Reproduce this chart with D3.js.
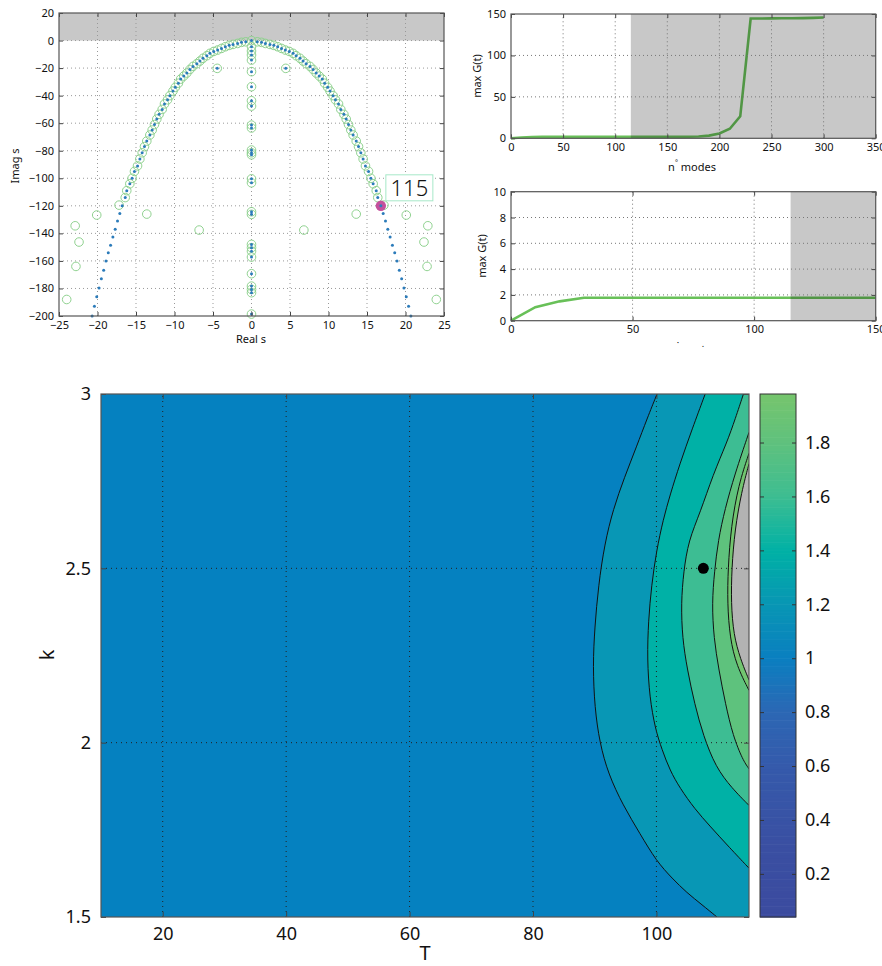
<!DOCTYPE html>
<html>
<head>
<meta charset="utf-8">
<script src="https://cdn.jsdelivr.net/npm/d3@7"></script>
<style>
body { margin: 0; background: #fff; }
svg text { font-family: "Noto Sans", "Open Sans", sans-serif; fill: #111; }
</style>
</head>
<body>
<svg id="fig" width="882" height="966"></svg>
<script>
// ---- spectrum (left branch, mirrored to the right) ----
var branchRe = [-0.75,-1.3,-1.8,-2.4,-2.9,-3.4,-3.9,-4.4,-4.9,-5.4,-5.8,-6.3,-6.7,-7.1,-7.6,-8.0,-8.4,-8.8,-9.2,-9.5,-9.9,-10.2,-10.6,-10.9,-11.3,-11.6,-12.0,-12.3,-12.6,-12.9,-13.2,-13.6,-13.9,-14.2,-14.5,-14.8,-15.2,-15.5,-15.8,-16.2,-16.4];
var branchIm = [-0.9,-1.3,-2.1,-2.8,-3.5,-4.5,-5.7,-6.9,-7.9,-9.3,-11,-12.9,-14.9,-16.8,-18.8,-21,-23.6,-25.8,-28,-31,-34,-36.7,-40,-43,-46,-50,-53.6,-57,-61,-65,-68.6,-73,-77,-81.5,-86,-91,-95,-100,-104,-109,-114];
var tailRe = [-16.8,-17.1,-17.4,-17.7,-18.0,-18.3,-18.6,-18.9,-19.2,-19.5,-19.8,-20.1,-20.4,-20.7];
var tailIm = [-120,-125.5,-131,-137,-142.7,-148.7,-154,-160,-166.7,-173,-179.7,-186,-193,-200];
var axisIm = [0,-4.5,-7.6,-10.5,-14.2,-22.6,-33.5,-43.7,-47.6,-61.4,-63.5,-79.5,-81.5,-83,-100.4,-103.3,-124.3,-126.2,-148,-150.4,-152.9,-157.2,-169.3,-178.3,-180.7,-183.1,-198.6];
var sideRe = [-4.45];
var sideIm = [-20.2];
var ghostRe = [-17.2,-20.1,-22.9,-22.4,-22.8,-24.0,-13.6,-6.8];
var ghostIm = [-119.5,-126.7,-134.5,-146.3,-164,-188,-126,-137.6];
var selRe = 16.8, selIm = -120, selLabel = "115";

// ---- max G(t) vs number of modes ----
var nModes = [0,10,20,30,40,50,60,70,80,90,100,110,120,130,140,150,160,170,180,190,200,210,220,230,240,250,260,270,280,290,300];
var maxG = [0,1.05,1.5,1.78,1.78,1.78,1.78,1.78,1.78,1.78,1.78,1.78,1.78,1.78,1.78,1.78,1.78,1.85,2.2,3.2,5.8,11.5,26.5,144.5,144.6,144.7,144.8,144.9,145.0,145.3,145.8];
var nCut = 115;

// ---- contour map of max G over (T, k) ----
var contour1 = [[100.1,3],[98.5,2.93],[96.8,2.85],[94.8,2.76],[93.0,2.67],[91.6,2.57],[90.6,2.45],[90.0,2.33],[89.7,2.22],[90.0,2.10],[90.8,2.00],[92.2,1.91],[94.6,1.82],[97.3,1.74],[100.0,1.66],[102.6,1.61],[104.9,1.57],[107.4,1.535],[109.8,1.50]];
var contour2 = [[107.9,3],[105.8,2.90],[103.8,2.80],[102.2,2.71],[101.1,2.64],[100.0,2.55],[99.2,2.45],[98.7,2.35],[98.5,2.24],[98.9,2.13],[99.8,2.04],[100.9,1.98],[102.2,1.92],[103.8,1.87],[106.2,1.81],[108.7,1.76],[111.8,1.70],[115,1.64]];
var contour3 = [[114.1,3],[112.8,2.93],[111.4,2.86],[109.2,2.77],[107.1,2.66],[105.2,2.58],[104.4,2.49],[104.0,2.40],[104.2,2.30],[105.0,2.21],[106.2,2.11],[107.6,2.02],[109.6,1.93],[112.2,1.87],[115,1.82]];
var contour4 = [[115,2.89],[112.7,2.77],[111.1,2.67],[110.0,2.58],[109.4,2.49],[109.0,2.40],[109.3,2.30],[110.1,2.21],[111.2,2.11],[112.4,2.02],[114.0,1.95],[115,1.925]];
var contour5 = [[115,2.83],[113.3,2.74],[112.1,2.62],[111.6,2.50],[111.5,2.40],[111.9,2.30],[113.0,2.22],[115,2.15]];
var unstable = [[115,2.80],[113.8,2.72],[112.7,2.61],[112.2,2.50],[112.1,2.40],[112.5,2.31],[113.6,2.24],[115,2.18]];
var bandColors = ["#0581c0","#0897b5","#00b1a6","#3dbd93","#5ec27d","#72c570"];
var unstableColor = "#b3b3b3";
var marker = [107.6, 2.5];

// colourbar
var cbStops = [0.04,0.3,0.6,0.8,1.0,1.2,1.4,1.6,1.8,1.98];
var cbColors = ["#3b4b9f","#3a4fa2","#355aab","#2c67b4","#0a7fc0","#0896b4","#00b1a5","#3dbd92","#5fc17d","#76c56d"];
var cbTicks = [0.2,0.4,0.6,0.8,1,1.2,1.4,1.6,1.8];

var svg = d3.select("#fig");
var fmt = d3.format("~g");

function grid(g, x, y, xt, yt, color, dash){
    var xd = x.domain(), yd = y.domain();
    g.append("g").selectAll("line")
        .data(xt.filter(function(v){return v > xd[0] && v < xd[1];}))
        .enter().append("line")
        .attr("x1", function(d){return x(d);}).attr("x2", function(d){return x(d);})
        .attr("y1", y.range()[0]).attr("y2", y.range()[1])
        .style("stroke", color).style("stroke-dasharray", dash);
    g.append("g").selectAll("line")
        .data(yt.filter(function(v){return v > yd[0] && v < yd[1];}))
        .enter().append("line")
        .attr("y1", function(d){return y(d);}).attr("y2", function(d){return y(d);})
        .attr("x1", x.range()[0]).attr("x2", x.range()[1])
        .style("stroke", color).style("stroke-dasharray", dash);
}

function frame(g, x, y, xt, yt, fs, len, pad){
    var xr = x.range(), yr = y.range();
    var gb = g.append("g").attr("transform", "translate(0," + yr[0] + ")")
        .call(d3.axisBottom(x).tickValues(xt).tickSize(-len).tickPadding(pad).tickFormat(fmt));
    var gl = g.append("g").attr("transform", "translate(" + xr[0] + ",0)")
        .call(d3.axisLeft(y).tickValues(yt).tickSize(-len).tickPadding(pad).tickFormat(fmt));
    g.append("g").attr("transform", "translate(0," + yr[1] + ")")
        .call(d3.axisTop(x).tickValues(xt).tickSize(-len).tickFormat(""));
    g.append("g").attr("transform", "translate(" + xr[1] + ",0)")
        .call(d3.axisRight(y).tickValues(yt).tickSize(-len).tickFormat(""));
    g.selectAll(".domain").remove();
    g.selectAll(".tick line").style("stroke", "#444");
    gb.attr("font-size", fs); gl.attr("font-size", fs);
    g.append("rect").attr("x", xr[0]).attr("y", yr[1])
        .attr("width", xr[1] - xr[0]).attr("height", yr[0] - yr[1])
        .style("fill", "none").style("stroke", "#555").style("stroke-width", 1.2);
}

// ================= spectrum =================
var sx = d3.scaleLinear().domain([-25, 25]).range([59, 444]);
var sy = d3.scaleLinear().domain([-200, 20]).range([316, 13]);
var gs = svg.append("g");
gs.append("rect").attr("x", sx(-25)).attr("y", sy(20))
    .attr("width", sx(25) - sx(-25)).attr("height", sy(0) - sy(20)).style("fill", "#c8c8c8");
grid(gs, sx, sy, d3.range(-25, 26, 5), d3.range(-200, 21, 20), "#999", "1,3");

var circ = [], dots = [];
branchRe.forEach(function(r, i){
    circ.push([r, branchIm[i]], [-r, branchIm[i]]);
    dots.push([r, branchIm[i]], [-r, branchIm[i]]);
});
tailRe.forEach(function(r, i){ dots.push([r, tailIm[i]], [-r, tailIm[i]]); });
axisIm.forEach(function(v){ circ.push([0, v]); dots.push([0, v]); });
sideRe.forEach(function(r, i){
    circ.push([r, sideIm[i]], [-r, sideIm[i]]);
    dots.push([r, sideIm[i]], [-r, sideIm[i]]);
});
ghostRe.forEach(function(r, i){ circ.push([r, ghostIm[i]], [-r, ghostIm[i]]); });

gs.append("g").selectAll("circle").data(circ).enter().append("circle")
    .attr("cx", function(d){return sx(d[0]);}).attr("cy", function(d){return sy(d[1]);})
    .attr("r", 4.3).style("fill", "none").style("stroke", "#90d290").style("stroke-width", 1);
gs.append("circle").attr("cx", sx(selRe)).attr("cy", sy(selIm)).attr("r", 5.2).style("fill", "#c4509c");
gs.append("g").selectAll("circle").data(dots).enter().append("circle")
    .attr("cx", function(d){return sx(d[0]);}).attr("cy", function(d){return sy(d[1]);})
    .attr("r", 1.5).style("fill", "#2b7bba");
frame(gs, sx, sy, d3.range(-25, 26, 5), d3.range(-200, 21, 20), 11, 4, 5);
gs.append("rect").attr("x", sx(selRe) + 5).attr("y", sy(selIm) - 31).attr("width", 47).attr("height", 26)
    .style("fill", "#fff").style("stroke", "#a6e8c8").style("stroke-width", 1);
gs.append("text").attr("x", sx(selRe) + 28.5).attr("y", sy(selIm) - 10)
    .attr("text-anchor", "middle").attr("font-size", 22).attr("font-weight", 300).text(selLabel);
gs.append("text").attr("transform", "translate(19,166) rotate(-90)").attr("text-anchor", "middle")
    .attr("font-size", 11).text("Imag  s");
gs.append("text").attr("x", 251).attr("y", 343).attr("text-anchor", "middle")
    .attr("font-size", 11).text("Real  s");

// ================= max G vs modes =================
function modesPanel(x, y, xt, yt, pts){
    var g = svg.append("g");
    g.append("path").datum(pts)
        .attr("d", d3.line().x(function(d){return x(d[0]);}).y(function(d){return y(d[1]);}))
        .style("fill", "none").style("stroke", "#68c058").style("stroke-width", 2.6);
    g.append("rect").attr("x", x(nCut)).attr("y", y.range()[1])
        .attr("width", x.range()[1] - x(nCut)).attr("height", y.range()[0] - y.range()[1])
        .style("fill", "#000").style("opacity", 0.215);
    grid(g, x, y, xt, yt, "#777", "1,3");
    frame(g, x, y, xt, yt, 11, 4, 5);
    return g;
}
var allPts = nModes.map(function(n, i){return [n, maxG[i]];});
var x1 = d3.scaleLinear().domain([0, 350]).range([511, 875.7]);
var y1 = d3.scaleLinear().domain([0, 150]).range([138.3, 14]);
var g1 = modesPanel(x1, y1, d3.range(0, 351, 50), d3.range(0, 151, 50), allPts);
g1.append("text").attr("transform", "translate(481,76) rotate(-90)").attr("text-anchor", "middle")
    .attr("font-size", 11).text("max G(t)");
var lab = g1.append("text").attr("x", 692).attr("y", 171).attr("text-anchor", "middle").attr("font-size", 11);
lab.append("tspan").text("n");
lab.append("tspan").attr("dy", -6).attr("font-size", 7).text("°");
lab.append("tspan").attr("dy", 6).text(" modes");

var x2 = d3.scaleLinear().domain([0, 150]).range([511, 875.7]);
var y2 = d3.scaleLinear().domain([0, 10]).range([320.7, 191.7]);
var g2 = modesPanel(x2, y2, d3.range(0, 151, 50), d3.range(0, 11, 2),
    allPts.filter(function(d){return d[0] <= 150;}));
g2.append("text").attr("transform", "translate(486,256) rotate(-90)").attr("text-anchor", "middle")
    .attr("font-size", 11).text("max G(t)");
g2.append("text").attr("x", 678).attr("y", 346).attr("text-anchor", "middle").attr("font-size", 9).text("·");
g2.append("text").attr("x", 703).attr("y", 347).attr("text-anchor", "middle").attr("font-size", 9).text(".");

// ================= contour map =================
var xT = d3.scaleLinear().domain([10, 115]).range([101, 749]);
var yK = d3.scaleLinear().domain([1.5, 3]).range([917, 394]);
var gc = svg.append("g");
svg.append("defs").append("clipPath").attr("id", "plotclip").append("rect")
    .attr("x", xT(10)).attr("y", yK(3)).attr("width", xT(115) - xT(10)).attr("height", yK(1.5) - yK(3));
var body = gc.append("g").attr("clip-path", "url(#plotclip)");
var cline = d3.line().x(function(d){return xT(d[0]);}).y(function(d){return yK(d[1]);})
    .curve(d3.curveBasis);
function bandPath(pts){
    var a = pts[0], b = pts[pts.length - 1];
    return cline(pts) + "L" + xT(115) + "," + yK(b[1]) + "L" + xT(115) + "," + yK(a[1]) + "Z";
}
body.append("rect").attr("x", xT(10)).attr("y", yK(3))
    .attr("width", xT(115) - xT(10)).attr("height", yK(1.5) - yK(3)).style("fill", bandColors[0]);
var levels = [contour1, contour2, contour3, contour4, contour5];
levels.forEach(function(c, i){
    body.append("path").attr("d", bandPath(c)).style("fill", bandColors[i + 1]);
});
body.append("path").attr("d", bandPath(unstable)).style("fill", unstableColor);
levels.concat([unstable]).forEach(function(c){
    body.append("path").attr("d", cline(c)).style("fill", "none").style("stroke", "#111").style("stroke-width", 1);
});
grid(gc, xT, yK, [20, 40, 60, 80, 100], [2, 2.5], "#222", "1,4");
gc.append("circle").attr("cx", xT(marker[0])).attr("cy", yK(marker[1])).attr("r", 5.5).style("fill", "#000");
frame(gc, xT, yK, [20, 40, 60, 80, 100], [1.5, 2, 2.5, 3], 18, 5, 10);
gc.append("text").attr("x", 425).attr("y", 960).attr("text-anchor", "middle").attr("font-size", 20).text("T");
gc.append("text").attr("transform", "translate(54,655) rotate(-90)").attr("text-anchor", "middle")
    .attr("font-size", 20).text("k");

// colourbar
var yC = d3.scaleLinear().domain([0.04, 1.98]).range([917, 394]);
var cmap = d3.scaleLinear().domain(cbStops).range(cbColors);
var gcb = svg.append("g");
var steps = d3.range(0.04, 1.98, 0.01);
gcb.selectAll("rect.s").data(steps).enter().append("rect")
    .attr("x", 760).attr("width", 36)
    .attr("y", function(d){return yC(d + 0.01);})
    .attr("height", function(d){return yC(d) - yC(d + 0.01) + 0.6;})
    .style("fill", function(d){return cmap(d + 0.005);});
gcb.append("g").attr("transform", "translate(796,0)")
    .call(d3.axisRight(yC).tickValues(cbTicks).tickSize(-4).tickPadding(9).tickFormat(fmt))
    .attr("font-size", 18);
gcb.append("g").attr("transform", "translate(760,0)")
    .call(d3.axisLeft(yC).tickValues(cbTicks).tickSize(-4).tickFormat(""));
gcb.selectAll(".domain").remove();
gcb.selectAll(".tick line").style("stroke", "#333");
gcb.append("rect").attr("x", 760).attr("y", 394).attr("width", 36).attr("height", 523)
    .style("fill", "none").style("stroke", "#333");
</script>
</body>
</html>
